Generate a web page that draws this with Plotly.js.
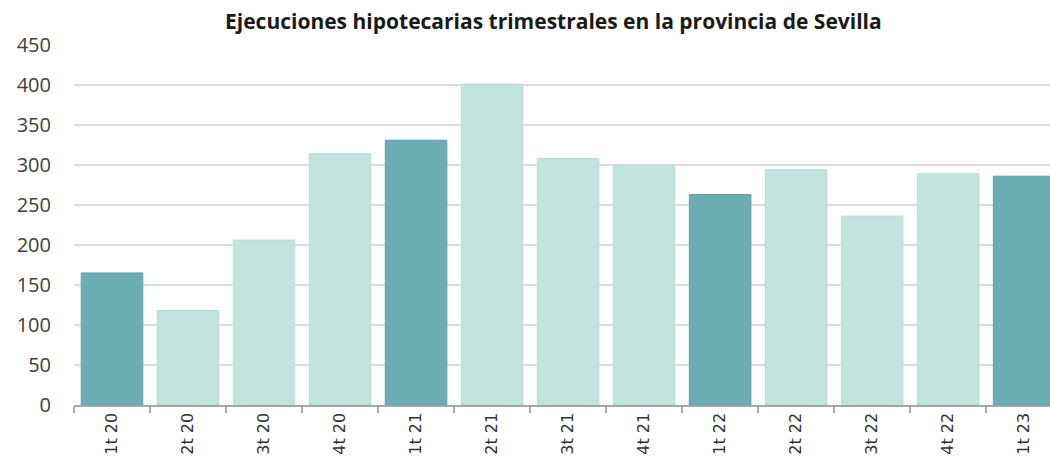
<!DOCTYPE html>
<html>
<head>
<meta charset="utf-8">
<script src="https://cdn.plot.ly/plotly-3.0.1.min.js"></script>
<style>html,body{margin:0;padding:0;background:#fff;}#chart{width:1050px;height:467px;}</style>
</head>
<body>
<div id="chart"></div>
<script>
const quarters = ["1t 20","2t 20","3t 20","4t 20","1t 21","2t 21","3t 21","4t 21","1t 22","2t 22","3t 22","4t 22","1t 23"];
const ejecuciones = [165, 118, 206, 314, 331, 401, 308, 299, 263, 294, 236, 289, 286];
const yTicks = [0, 50, 100, 150, 200, 250, 300, 350, 400, 450];

const dark = "#6cadb4", light = "#c3e3de";
const colors = quarters.map(q => q.startsWith("1t") ? dark : light);
const lines = quarters.map(q => q.startsWith("1t") ? "#5e9fa7" : "#b8dcd6");

Plotly.newPlot("chart", [{
  type: "bar",
  x: quarters,
  y: ejecuciones,
  marker: {color: colors, line: {color: lines, width: 1}},
  hoverinfo: "x+y"
}], {
  width: 1050, height: 467,
  margin: {l: 74, r: 0, t: 45, b: 62},
  paper_bgcolor: "#fff", plot_bgcolor: "#fff",
  bargap: 0.19,
  showlegend: false,
  title: {
    text: "Ejecuciones hipotecarias trimestrales en la provincia de Sevilla",
    font: {family: "'Open Sans', sans-serif", size: 21, color: "#1a1a1a", weight: "bold"},
    x: 0.527, xanchor: "center", y: 0.953, yanchor: "middle"
  },
  xaxis: {
    type: "category",
    range: [-0.5, 12.34],
    tickangle: -90,
    tickfont: {family: "'DejaVu Sans', sans-serif", size: 16, color: "#333333"},
    showline: true, linecolor: "#a6a6a6", linewidth: 1.5,
    ticks: "outside", ticklen: 6, tickcolor: "#a6a6a6", tickwidth: 1.5,
    tickson: "boundaries",
    showgrid: false, zeroline: false, fixedrange: true
  },
  yaxis: {
    range: [0, 450],
    tickvals: yTicks,
    ticktext: yTicks.map(String),
    tickfont: {family: "'Open Sans', sans-serif", size: 20, color: "#404040"},
    showgrid: true, gridcolor: "#dcdcdc", gridwidth: 1.5,
    showline: false, zeroline: false,
    ticks: "", ticklabelstandoff: 22,
    fixedrange: true
  }
}, {displayModeBar: false, staticPlot: true});
</script>
</body>
</html>
